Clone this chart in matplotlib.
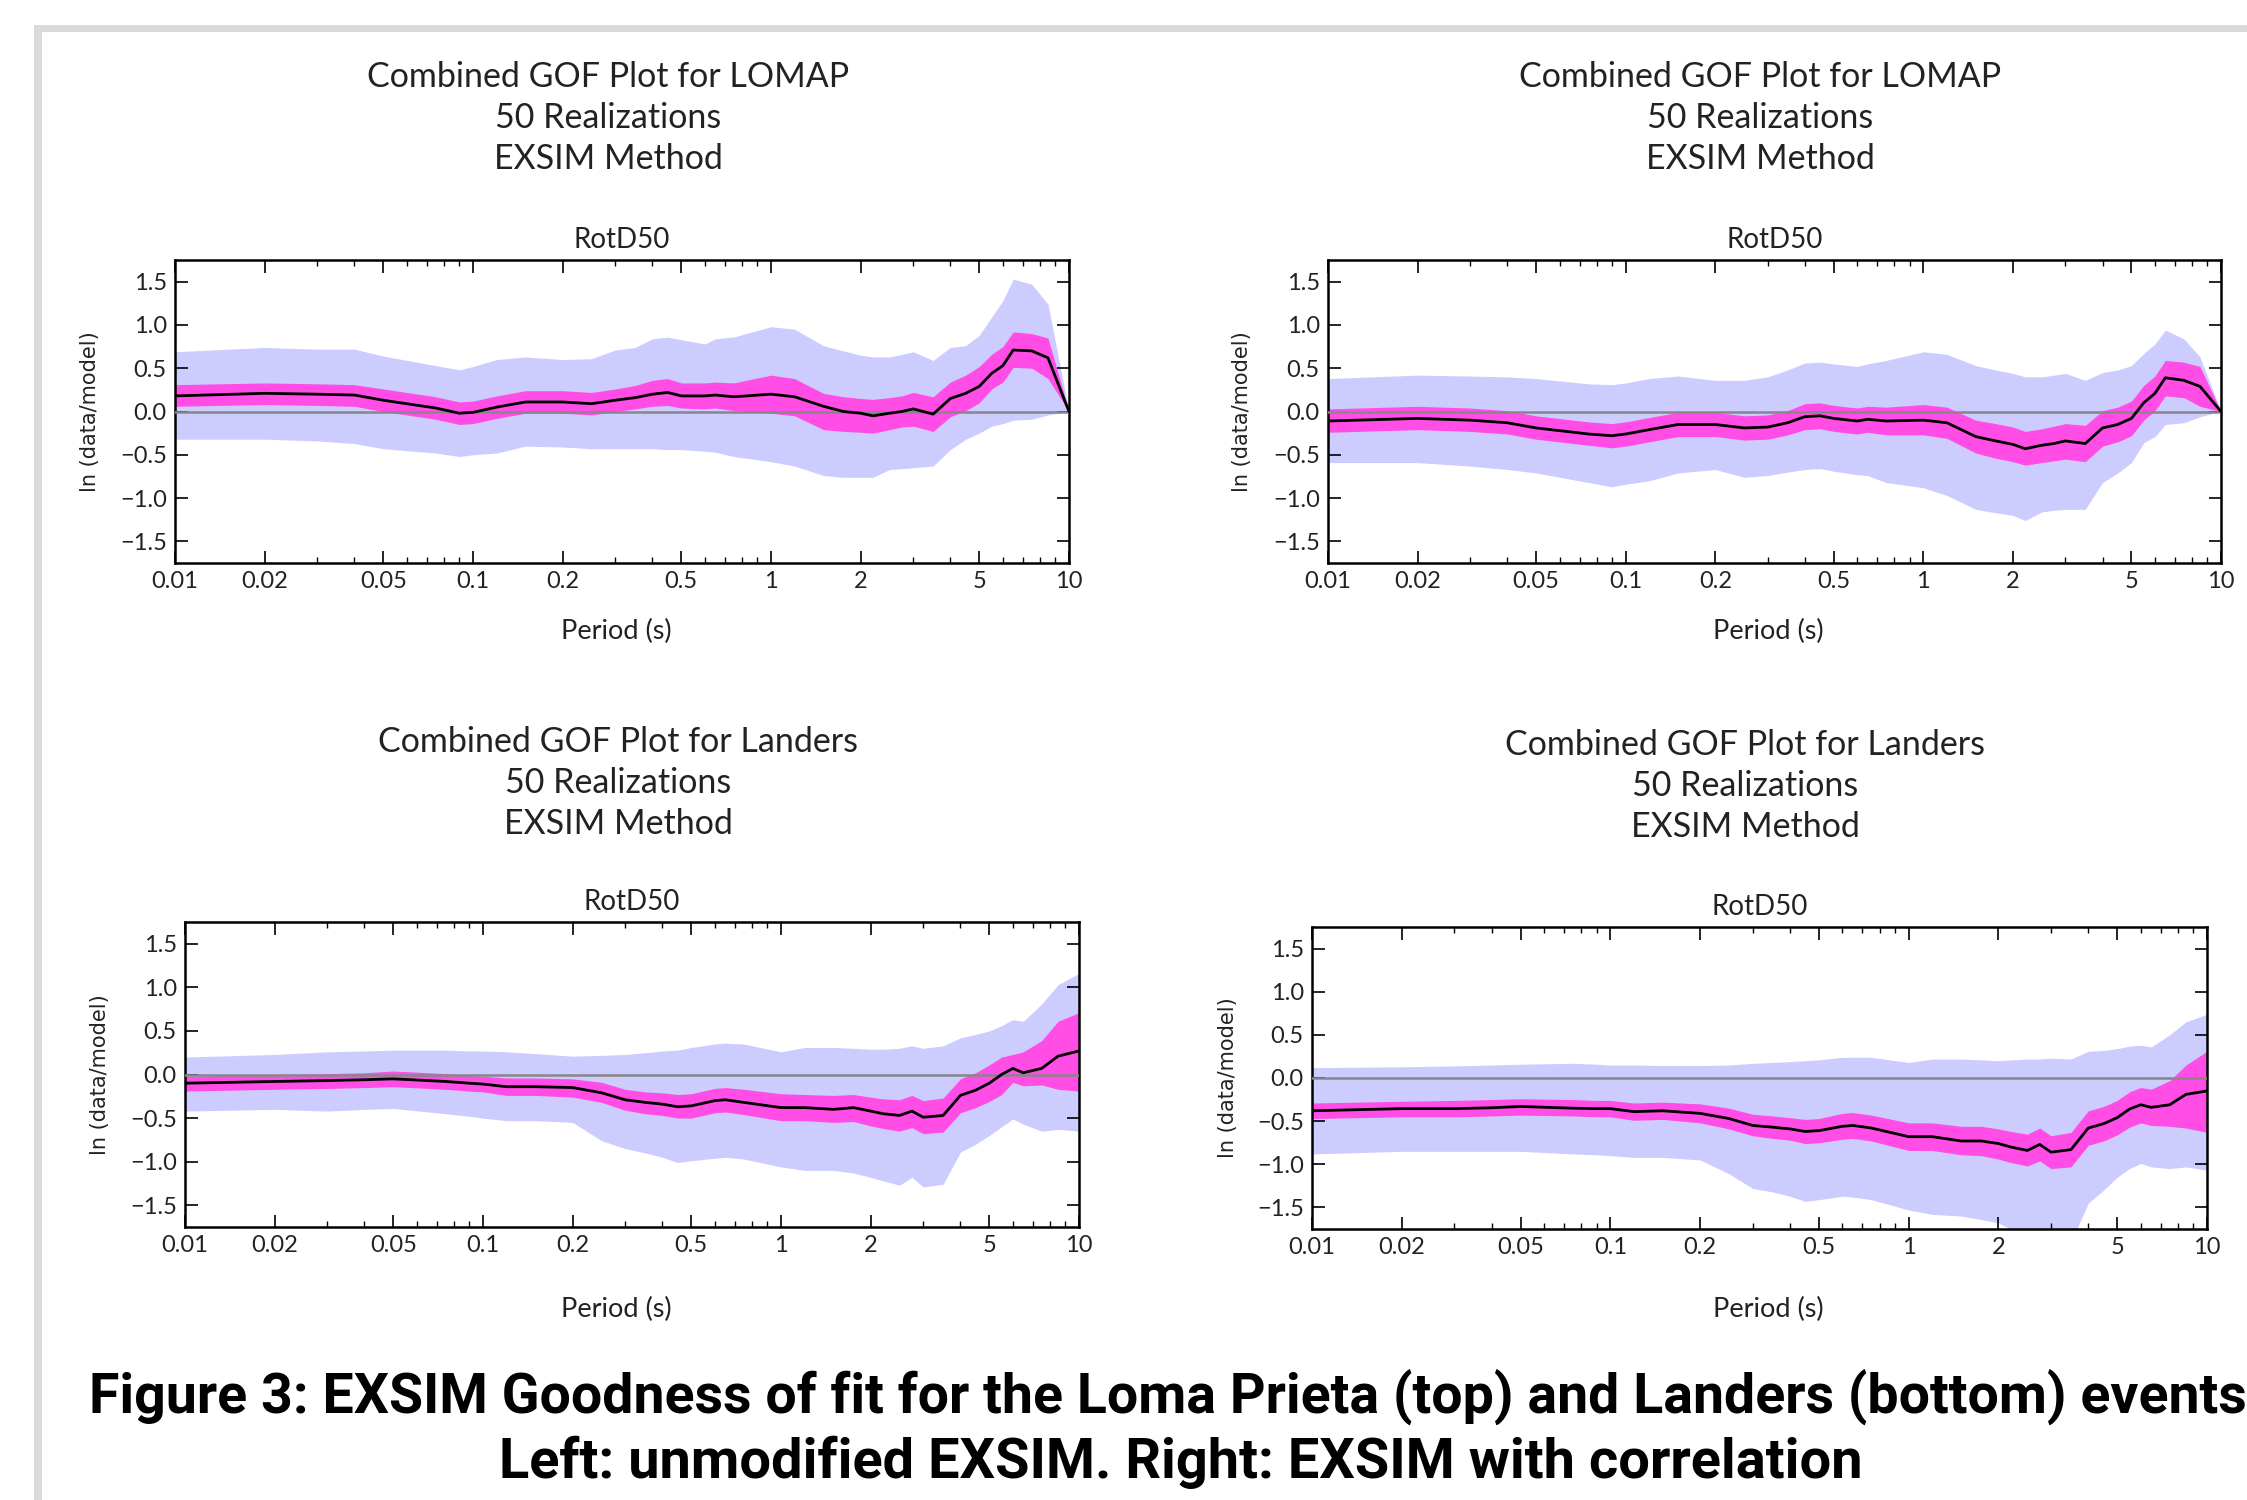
import matplotlib
matplotlib.use("Agg")
import matplotlib.pyplot as plt
from matplotlib.patches import Rectangle
from matplotlib.ticker import FixedLocator, FixedFormatter, LogLocator, NullFormatter

# %% data
periods = [0.01, 0.02, 0.03, 0.04, 0.05, 0.075, 0.09, 0.1, 0.12, 0.15, 0.2, 0.25, 0.3,
           0.35, 0.4, 0.45, 0.5, 0.6, 0.65, 0.75, 1.0, 1.2, 1.5, 1.75, 2.0, 2.2, 2.5,
           2.75, 3.0, 3.5, 4.0, 4.5, 5.0, 5.5, 6.0, 6.5, 7.5, 8.5, 10.0]

# Loma Prieta, unmodified EXSIM (top left)
lomap_unmod_med = [0.18, 0.21, 0.20, 0.19, 0.13, 0.04, -0.02, -0.01, 0.05, 0.11, 0.11, 0.09, 0.13,
                   0.16, 0.20, 0.22, 0.18, 0.18, 0.19, 0.17, 0.20, 0.17, 0.06, 0.00, -0.02, -0.05, -0.02,
                   0.00, 0.03, -0.03, 0.15, 0.21, 0.29, 0.44, 0.53, 0.71, 0.70, 0.62, 0.0]
lomap_unmod_lo1 = [0.06, 0.08, 0.07, 0.06, 0.00, -0.09, -0.15, -0.14, -0.08, -0.02, -0.02, -0.04, 0.00,
                   0.03, 0.06, 0.07, 0.04, 0.03, 0.04, 0.01, -0.02, -0.05, -0.21, -0.23, -0.24, -0.25, -0.21,
                   -0.18, -0.17, -0.23, -0.06, 0.01, 0.10, 0.26, 0.34, 0.51, 0.50, 0.38, 0.0]
lomap_unmod_hi1 = [0.31, 0.33, 0.32, 0.31, 0.26, 0.17, 0.11, 0.12, 0.18, 0.24, 0.24, 0.22, 0.26,
                   0.30, 0.36, 0.38, 0.33, 0.33, 0.34, 0.33, 0.42, 0.38, 0.21, 0.17, 0.15, 0.14, 0.16,
                   0.18, 0.22, 0.17, 0.34, 0.42, 0.52, 0.66, 0.75, 0.92, 0.90, 0.85, 0.0]
lomap_unmod_lo2 = [-0.32, -0.32, -0.34, -0.37, -0.43, -0.48, -0.52, -0.50, -0.48, -0.40, -0.41, -0.43, -0.43,
                   -0.43, -0.43, -0.44, -0.44, -0.46, -0.47, -0.52, -0.58, -0.63, -0.74, -0.76, -0.76, -0.76, -0.67,
                   -0.66, -0.65, -0.63, -0.44, -0.32, -0.25, -0.17, -0.14, -0.10, -0.09, -0.04, 0.0]
lomap_unmod_hi2 = [0.69, 0.74, 0.72, 0.72, 0.64, 0.53, 0.48, 0.52, 0.60, 0.63, 0.60, 0.61, 0.71,
                   0.74, 0.84, 0.86, 0.83, 0.78, 0.84, 0.86, 0.98, 0.95, 0.76, 0.70, 0.65, 0.63, 0.63,
                   0.66, 0.69, 0.59, 0.74, 0.76, 0.88, 1.09, 1.28, 1.53, 1.47, 1.24, 0.0]

# Loma Prieta, EXSIM with correlation (top right)
lomap_corr_med = [-0.11, -0.08, -0.10, -0.13, -0.19, -0.26, -0.28, -0.26, -0.21, -0.15, -0.15, -0.19, -0.18,
                  -0.13, -0.06, -0.05, -0.08, -0.11, -0.09, -0.11, -0.10, -0.13, -0.29, -0.34, -0.38, -0.43, -0.39,
                  -0.37, -0.34, -0.37, -0.19, -0.15, -0.08, 0.10, 0.21, 0.39, 0.36, 0.29, 0.0]
lomap_corr_lo1 = [-0.24, -0.21, -0.23, -0.26, -0.32, -0.39, -0.42, -0.40, -0.35, -0.29, -0.29, -0.33, -0.32,
                  -0.27, -0.21, -0.20, -0.23, -0.26, -0.24, -0.27, -0.27, -0.31, -0.48, -0.54, -0.58, -0.62, -0.59,
                  -0.57, -0.55, -0.58, -0.40, -0.35, -0.28, -0.10, 0.01, 0.18, 0.16, 0.06, 0.0]
lomap_corr_hi1 = [0.03, 0.06, 0.04, 0.01, -0.05, -0.12, -0.14, -0.12, -0.07, -0.01, -0.01, -0.05, -0.04,
                  0.01, 0.09, 0.10, 0.07, 0.04, 0.06, 0.05, 0.08, 0.05, -0.10, -0.14, -0.18, -0.23, -0.20,
                  -0.17, -0.14, -0.16, 0.01, 0.05, 0.12, 0.30, 0.41, 0.59, 0.57, 0.52, 0.0]
lomap_corr_lo2 = [-0.59, -0.59, -0.63, -0.67, -0.71, -0.82, -0.87, -0.84, -0.80, -0.71, -0.67, -0.76, -0.74,
                  -0.70, -0.67, -0.66, -0.69, -0.73, -0.74, -0.82, -0.88, -0.97, -1.13, -1.17, -1.20, -1.26, -1.16,
                  -1.14, -1.13, -1.13, -0.82, -0.71, -0.59, -0.36, -0.29, -0.15, -0.13, -0.06, 0.0]
lomap_corr_hi2 = [0.38, 0.42, 0.41, 0.40, 0.38, 0.32, 0.31, 0.33, 0.38, 0.41, 0.36, 0.36, 0.40,
                  0.48, 0.56, 0.57, 0.55, 0.52, 0.55, 0.59, 0.69, 0.66, 0.53, 0.48, 0.44, 0.40, 0.40,
                  0.42, 0.44, 0.36, 0.45, 0.48, 0.53, 0.67, 0.78, 0.94, 0.84, 0.63, 0.0]

# Landers, unmodified EXSIM (bottom left)
landers_unmod_med = [-0.10, -0.08, -0.07, -0.06, -0.05, -0.08, -0.10, -0.11, -0.14, -0.14, -0.15, -0.21, -0.29,
                     -0.32, -0.34, -0.37, -0.36, -0.30, -0.29, -0.32, -0.38, -0.38, -0.40, -0.38, -0.42, -0.45, -0.47,
                     -0.42, -0.49, -0.47, -0.24, -0.18, -0.10, 0.00, 0.07, 0.02, 0.07, 0.21, 0.27]
landers_unmod_lo1 = [-0.19, -0.17, -0.16, -0.15, -0.14, -0.17, -0.19, -0.20, -0.24, -0.24, -0.26, -0.32, -0.41,
                     -0.45, -0.47, -0.50, -0.50, -0.44, -0.43, -0.46, -0.53, -0.53, -0.55, -0.54, -0.59, -0.62, -0.65,
                     -0.61, -0.68, -0.66, -0.44, -0.38, -0.31, -0.23, -0.09, -0.13, -0.12, -0.17, -0.19]
landers_unmod_hi1 = [-0.02, 0.00, 0.01, 0.02, 0.04, 0.01, -0.01, -0.02, -0.04, -0.04, -0.05, -0.09, -0.17,
                     -0.20, -0.21, -0.23, -0.22, -0.16, -0.15, -0.17, -0.22, -0.23, -0.24, -0.23, -0.26, -0.28, -0.29,
                     -0.24, -0.30, -0.27, -0.05, 0.02, 0.11, 0.20, 0.23, 0.26, 0.39, 0.61, 0.71]
landers_unmod_lo2 = [-0.42, -0.40, -0.42, -0.40, -0.39, -0.45, -0.48, -0.50, -0.53, -0.53, -0.55, -0.76, -0.85,
                     -0.90, -0.95, -1.01, -0.99, -0.96, -0.95, -0.97, -1.06, -1.10, -1.10, -1.13, -1.18, -1.22, -1.27,
                     -1.18, -1.29, -1.26, -0.89, -0.80, -0.70, -0.60, -0.51, -0.57, -0.65, -0.63, -0.65]
landers_unmod_hi2 = [0.20, 0.23, 0.26, 0.27, 0.28, 0.28, 0.27, 0.27, 0.26, 0.24, 0.21, 0.22, 0.23,
                     0.25, 0.27, 0.28, 0.31, 0.35, 0.36, 0.35, 0.26, 0.31, 0.31, 0.30, 0.29, 0.29, 0.30,
                     0.33, 0.30, 0.33, 0.42, 0.46, 0.50, 0.56, 0.63, 0.61, 0.81, 1.03, 1.16]

# Landers, EXSIM with correlation (bottom right)
landers_corr_med = [-0.38, -0.355, -0.355, -0.345, -0.33, -0.35, -0.355, -0.355, -0.39, -0.38, -0.41, -0.47, -0.55,
                    -0.57, -0.59, -0.62, -0.61, -0.56, -0.55, -0.58, -0.68, -0.68, -0.73, -0.73, -0.76, -0.80, -0.84,
                    -0.77, -0.86, -0.83, -0.58, -0.53, -0.46, -0.36, -0.31, -0.34, -0.31, -0.19, -0.15]
landers_corr_lo1 = [-0.47, -0.45, -0.45, -0.44, -0.43, -0.44, -0.45, -0.45, -0.49, -0.48, -0.52, -0.59, -0.67,
                    -0.70, -0.72, -0.76, -0.75, -0.71, -0.70, -0.73, -0.84, -0.84, -0.89, -0.90, -0.94, -0.98, -1.02,
                    -0.96, -1.05, -1.03, -0.78, -0.73, -0.66, -0.57, -0.52, -0.55, -0.56, -0.58, -0.63]
landers_corr_hi1 = [-0.29, -0.27, -0.26, -0.25, -0.24, -0.25, -0.26, -0.26, -0.29, -0.28, -0.30, -0.35, -0.42,
                    -0.44, -0.46, -0.48, -0.47, -0.41, -0.40, -0.43, -0.52, -0.52, -0.56, -0.56, -0.59, -0.62, -0.65,
                    -0.58, -0.67, -0.63, -0.38, -0.33, -0.26, -0.16, -0.11, -0.13, -0.03, 0.15, 0.31]
landers_corr_lo2 = [-0.88, -0.85, -0.85, -0.85, -0.85, -0.88, -0.89, -0.90, -0.92, -0.92, -0.95, -1.11, -1.28,
                    -1.32, -1.37, -1.43, -1.41, -1.37, -1.38, -1.41, -1.53, -1.58, -1.60, -1.64, -1.68, -1.75, -1.85,
                    -1.85, -1.95, -1.90, -1.45, -1.30, -1.15, -1.05, -0.99, -1.03, -1.05, -1.03, -1.07]
landers_corr_hi2 = [0.12, 0.13, 0.14, 0.15, 0.16, 0.17, 0.16, 0.15, 0.15, 0.145, 0.145, 0.15, 0.17,
                    0.18, 0.19, 0.20, 0.21, 0.24, 0.24, 0.24, 0.18, 0.22, 0.22, 0.21, 0.20, 0.21, 0.22,
                    0.22, 0.23, 0.22, 0.31, 0.32, 0.34, 0.37, 0.38, 0.36, 0.50, 0.65, 0.74]

events = ["LOMAP", "LOMAP", "Landers", "Landers"]
xticks = [0.01, 0.02, 0.05, 0.1, 0.2, 0.5, 1, 2, 5, 10]
xticklabels = ["0.01", "0.02", "0.05", "0.1", "0.2", "0.5", "1", "2", "5", "10"]
yticks = [-1.5, -1.0, -0.5, 0.0, 0.5, 1.0, 1.5]
yticklabels = ["\u22121.5", "\u22121.0", "\u22120.5", "0.0", "0.5", "1.0", "1.5"]
caption1 = "Figure 3: EXSIM Goodness of fit for the Loma Prieta (top) and Landers (bottom) events"
caption2 = "Left: unmodified EXSIM. Right: EXSIM with correlation"

panels = [
    (lomap_unmod_med, lomap_unmod_lo1, lomap_unmod_hi1, lomap_unmod_lo2, lomap_unmod_hi2),
    (lomap_corr_med, lomap_corr_lo1, lomap_corr_hi1, lomap_corr_lo2, lomap_corr_hi2),
    (landers_unmod_med, landers_unmod_lo1, landers_unmod_hi1, landers_unmod_lo2, landers_unmod_hi2),
    (landers_corr_med, landers_corr_lo1, landers_corr_hi1, landers_corr_lo2, landers_corr_hi2),
]

# %% layout (pixel boxes of the reference, 2247x1500)
W, H = 2247, 1500
plt.rcParams['font.family'] = ['Lato', 'DejaVu Sans']
fig = plt.figure(figsize=(W / 100, H / 100), dpi=100)
fig.patch.set_facecolor('white')

# grey page border
fig.add_artist(Rectangle((34 / W, 1 - 32 / H), 1, 7 / H, transform=fig.transFigure,
                         facecolor='#dadada', edgecolor='none'))
fig.add_artist(Rectangle((34 / W, 0), 8 / W, 1 - 25 / H, transform=fig.transFigure,
                         facecolor='#dadada', edgecolor='none'))

# axes boxes: left, top, right, bottom in pixels; title centre x; title first-line y;
# x label centre x / gap below axes; y label x
boxes = [
    (175, 260, 1069, 563, 608, 77, 616, 68, 90),
    (1328, 260, 2221, 563, 1760, 77, 1768, 68, 1242),
    (185, 922, 1079, 1227, 618, 742, 616, 82, 100),
    (1312, 927, 2207, 1229, 1745, 745, 1768, 80, 1228),
]

for i, (data, box) in enumerate(zip(panels, boxes)):
    med, lo1, hi1, lo2, hi2 = data
    l, t, r, b, tx, ty, xlx, xlgap, ylx = box
    ax = fig.add_axes([l / W, 1 - b / H, (r - l) / W, (b - t) / H])
    ax.fill_between(periods, lo2, hi2, color='#ccccff', linewidth=0, zorder=1)
    ax.fill_between(periods, lo1, hi1, color='#ff4de6', linewidth=0, zorder=2)
    ax.axhline(0, color='#888888', linewidth=1.8, zorder=3)
    ax.plot(periods, med, color='black', linewidth=2.0, zorder=4)
    ax.set_xscale('log')
    ax.set_xlim(0.01, 10)
    ax.set_ylim(-1.75, 1.75)
    ax.xaxis.set_major_locator(FixedLocator(xticks))
    ax.xaxis.set_major_formatter(FixedFormatter(xticklabels))
    ax.xaxis.set_minor_locator(LogLocator(base=10, subs=range(2, 10)))
    ax.xaxis.set_minor_formatter(NullFormatter())
    ax.yaxis.set_major_locator(FixedLocator(yticks))
    ax.yaxis.set_major_formatter(FixedFormatter(yticklabels))
    ax.tick_params(which='both', direction='in', top=True, right=True, colors='black',
                   labelcolor='#222222', labelsize=17)
    ax.tick_params(which='major', length=9, width=1.2, pad=6)
    ax.tick_params(which='minor', length=4.5, width=1.0)
    for sp in ax.spines.values():
        sp.set_linewidth(1.8)
        sp.set_color('black')

    cx = (l + r) / 2
    fig.text(cx / W, 1 - (t - 20) / H, "RotD50", ha='center', va='center', fontsize=20, color='#222222')
    for k, line in enumerate([f"Combined GOF Plot for {events[i]}", "50 Realizations", "EXSIM Method"]):
        fig.text(tx / W, 1 - (ty + 41 * k) / H, line, ha='center', va='center', fontsize=24.5, color='#222222')
    fig.text(xlx / W, 1 - (b + xlgap) / H, "Period (s)", ha='center', va='center', fontsize=19.5,
             color='#222222')
    fig.text(ylx / W, 1 - ((t + b) / 2) / H, "ln (data/model)", rotation=90, ha='center', va='center',
             fontsize=15, family='DejaVu Sans', color='#222222')

fig.text(89 / W, 1 - 1397 / H, caption1, ha='left', va='center', fontsize=40,
         family=['Roboto', 'DejaVu Sans'], fontweight='bold', color='black')
fig.text(1181 / W, 1 - 1462 / H, caption2, ha='center', va='center', fontsize=40.3,
         family=['Roboto', 'DejaVu Sans'], fontweight='bold', color='black')

fig.savefig('out.png', dpi=100, facecolor='white')
